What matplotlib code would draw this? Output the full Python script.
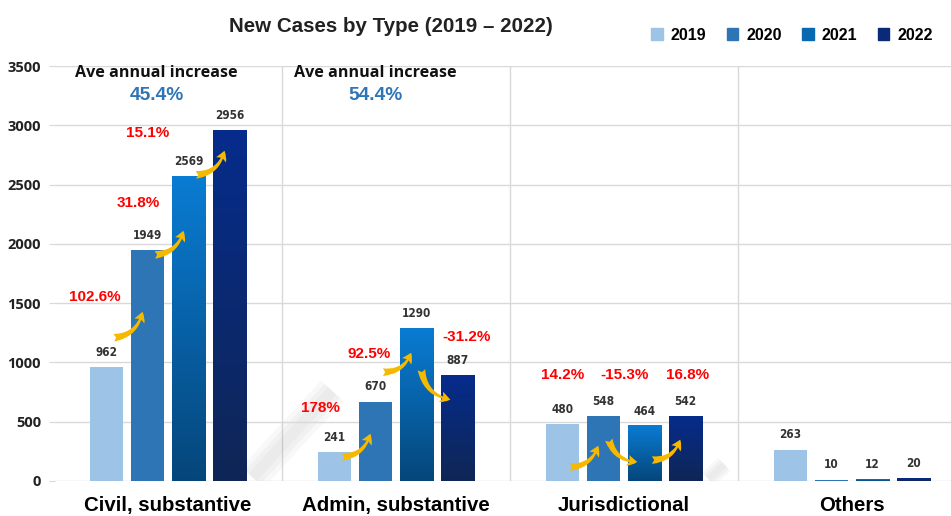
import numpy as np
import matplotlib
matplotlib.use("Agg")
import matplotlib.pyplot as plt
from matplotlib.patches import FancyArrowPatch, Patch
from matplotlib.colors import LinearSegmentedColormap

# data
categories = ["Civil, substantive", "Admin, substantive", "Jurisdictional", "Others"]
years = ["2019", "2020", "2021", "2022"]
cases_2019 = [962, 241, 480, 263]
cases_2020 = [1949, 670, 548, 10]
cases_2021 = [2569, 1290, 464, 12]
cases_2022 = [2956, 887, 542, 20]
series = [cases_2019, cases_2020, cases_2021, cases_2022]

ave_increase = ["45.4%", "54.4%"]

# year-on-year change labels: (group, label, x offset from group centre, y)
changes = [
    (0, "102.6%", -0.32, 1551), (0, "31.8%", -0.13, 2344), (0, "15.1%", -0.09, 2934),
    (1, "178%", -0.33, 615), (1, "92.5%", -0.12, 1070), (1, "-31.2%", 0.31, 1214),
    (2, "14.2%", -0.27, 894), (2, "-15.3%", 0.0, 894), (2, "16.8%", 0.28, 894),
]
# arrows: (group, from bar, y start, y end)
arrows = [
    (0, 0, 1206, 1450), (0, 1, 1906, 2133), (0, 2, 2580, 2808),
    (1, 0, 202, 421), (1, 1, 919, 1104), (1, 2, 961, 683),
    (2, 0, 118, 320), (2, 1, 371, 160), (2, 2, 177, 371),
]

flat_colors = ["#9DC3E6", "#2E75B6", None, None]
grad_colors = {2: ("#0A7CD3", "#05467A"), 3: ("#062C8C", "#0F2655")}
legend_colors = ["#9DC3E6", "#2E75B6", "#0868B0", "#0A2A78"]

fig = plt.figure(figsize=(9.51, 5.16), dpi=100)
ax = fig.add_axes([55 / 951, 35 / 516, 896 / 951, 415 / 516])

bar_w = 0.145
step = 0.18
x = np.arange(len(categories))
offsets = (np.arange(4) - 1.5) * step

# soft reflection shadows behind the bars
for lw in [22, 15, 8]:
    ax.plot([0.37, 0.72], [30, 760], color="#808080", alpha=0.05, lw=lw,
            solid_capstyle="butt", zorder=1)
    ax.plot([2.37, 2.44], [15, 140], color="#808080", alpha=0.05, lw=lw * 0.6,
            solid_capstyle="butt", zorder=1)

for j, vals in enumerate(series):
    xs = x + offsets[j]
    if flat_colors[j] is not None:
        ax.bar(xs, vals, width=bar_w, color=flat_colors[j], zorder=3)
    else:
        top, bottom = grad_colors[j]
        cmap = LinearSegmentedColormap.from_list("g%d" % j, [bottom, top])
        grad = np.linspace(0, 1, 256).reshape(-1, 1)
        for xi, v in zip(xs, vals):
            ax.imshow(grad, cmap=cmap, origin="lower", aspect="auto",
                      extent=(xi - bar_w / 2, xi + bar_w / 2, 0, v), zorder=3)
    for xi, v in zip(xs, vals):
        ax.annotate(str(v), (xi, v), xytext=(0, 6), textcoords="offset points",
                    ha="center", va="bottom", fontsize=8.5, fontweight="bold",
                    color="#333333", fontstretch="condensed",
                    family=["Liberation Sans Narrow", "DejaVu Sans"], zorder=5)

# curved arrows
for g, b, y0, y1 in arrows:
    x0 = x[g] + offsets[b] + 0.02
    x1 = x[g] + offsets[b + 1] - 0.02
    arr = FancyArrowPatch((x0, y0), (x1, y1), connectionstyle="arc3,rad=0.4",
                          arrowstyle="fancy,head_length=7,head_width=8,tail_width=5.5",
                          color="#F6B900", lw=0, zorder=6)
    ax.add_patch(arr)

for g, lab, dx, yy in changes:
    ax.text(x[g] + dx, yy, lab, ha="center", va="center", color="#FF0000",
            fontsize=11, fontweight="bold", family="Liberation Sans", zorder=7)

for g, val in enumerate(ave_increase):
    cx = x[g] - 0.05 if g == 0 else x[g] - 0.09
    ax.text(cx, 3440, "Ave annual increase", ha="center", va="center",
            fontsize=11.6, fontweight="bold", family="Open Sans", color="#111111")
    ax.text(cx, 3255, val, ha="center", va="center", fontsize=13.8,
            fontweight="bold", family="Liberation Sans", color="#2E75B6")

ax.set_xlim(-0.496, 3.434)
ax.set_ylim(0, 3500)
ax.set_yticks(np.arange(0, 3501, 500))
ax.yaxis.grid(True, color="#D9D9D9", lw=1, zorder=0)
for sep in [0.5, 1.5, 2.5]:
    ax.axvline(sep, color="#D9D9D9", lw=1, zorder=0)
for s in ax.spines.values():
    s.set_visible(False)
ax.tick_params(axis="y", length=4, color="#D9D9D9", pad=6)
ax.tick_params(axis="x", length=0, pad=11)
ax.set_xticks(x)
ax.set_xticklabels(categories, fontsize=14.7, fontweight="bold", family="Liberation Sans")
for t in ax.get_yticklabels():
    t.set_fontsize(10.5)
    t.set_fontweight("bold")
    t.set_family("Open Sans")
    t.set_color("#222222")

fig.text(391 / 951, 1 - 27 / 516, "New Cases by Type (2019 \u2013 2022)", ha="center",
         va="center", fontsize=14.8, fontweight="bold", family="Liberation Sans",
         color="#222222")

handles = [Patch(color=c) for c in legend_colors]
fig.legend(handles, years, loc="center", bbox_to_anchor=(792 / 951, 1 - 35 / 516),
           ncol=4, frameon=False, handlelength=0.7, handleheight=0.7,
           handletextpad=0.5, columnspacing=1.3,
           prop={"family": "Liberation Sans", "weight": "bold", "size": 11.5})

fig.savefig("out.png", dpi=100)
